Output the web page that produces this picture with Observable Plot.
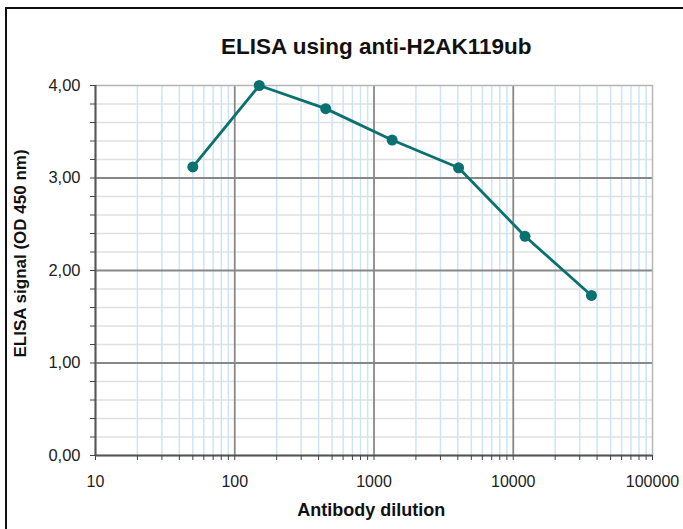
<!DOCTYPE html>
<html><head><meta charset="utf-8">
<script src="https://cdn.jsdelivr.net/npm/d3@7"></script>
<script src="https://cdn.jsdelivr.net/npm/@observablehq/plot@0.6"></script>
<style>
html,body{margin:0;background:#fff;overflow:hidden;}
#wrap{position:relative;width:683px;height:529px;overflow:hidden;background:#fff;}
#border{position:absolute;left:5px;top:7px;width:720px;height:600px;border-left:2px solid #111;border-top:2px solid #111;box-sizing:border-box;}
#chart{position:absolute;left:0;top:0;}
</style></head><body>
<div id="wrap"><div id="border"></div><div id="chart"></div></div>
<script>
const titleText = "ELISA using anti-H2AK119ub";
const xLabel = "Antibody dilution";
const yLabel = "ELISA signal (OD 450 nm)";
const dilutions = [50, 150, 450, 1350, 4050, 12150, 36450];
const signal = [3.12, 4.00, 3.75, 3.41, 3.11, 2.37, 1.73];
const xMajorTicks = [10, 100, 1000, 10000, 100000];
const xTickLabels = ["10", "100", "1000", "10000", "100000"];
const yMajorTicks = [0, 1, 2, 3, 4];
const yTickLabels = ["0,00", "1,00", "2,00", "3,00", "4,00"];

const data = dilutions.map((d, i) => ({dilution: d, signal: signal[i]}));
const xAllTicks = d3.scaleLog().domain([10, 100000]).ticks();
const xMinorTicks = xAllTicks.filter(t => !xMajorTicks.includes(t));
const yAllTicks = d3.range(0, 21).map(i => i / 5);
const yMinorTicks = yAllTicks.filter(t => !yMajorTicks.includes(t));
const xLab = new Map(xMajorTicks.map((t, i) => [t, xTickLabels[i]]));
const yLab = new Map(yMajorTicks.map((t, i) => [t, yTickLabels[i]]));
const teal = "#0b7070";

const chart = Plot.plot({
  width: 683, height: 529,
  marginLeft: 95, marginRight: 31, marginTop: 85, marginBottom: 74,
  style: {fontFamily: "'Liberation Sans', Arial, sans-serif", background: "transparent", overflow: "visible", color: "#222"},
  x: {type: "log", domain: [10, 100000], axis: null},
  y: {domain: [0, 4], axis: null},
  marks: [
    Plot.ruleY(yMinorTicks, {stroke: "#e0e0e0", strokeWidth: 1.5}),
    Plot.ruleX(xMinorTicks, {stroke: "#cde4fa", strokeWidth: 1.5}),
    Plot.ruleY(yMajorTicks.filter(t => t > 0 && t < 4), {stroke: "#888", strokeWidth: 1.8}),
    Plot.ruleX(xMajorTicks.filter(t => t > 10 && t < 100000), {stroke: "#888", strokeWidth: 1.8}),
    Plot.frame({stroke: "#b5b5b5", strokeWidth: 1.5}),
    Plot.ruleY([0], {stroke: "#555", strokeWidth: 2}),
    Plot.ruleX([10], {stroke: "#555", strokeWidth: 2}),
    Plot.axisX(xAllTicks, {label: null, tickSize: 5, tickPadding: 15.5, stroke: "#444", fontSize: 16, fill: "#222",
      tickFormat: t => xLab.get(t) ?? ""}),
    Plot.axisY(yAllTicks, {label: null, tickSize: 5, tickPadding: 10, stroke: "#444", fontSize: 16.5, fill: "#222",
      tickFormat: t => yLab.get(t) ?? ""}),
    Plot.line(data, {x: "dilution", y: "signal", stroke: teal, strokeWidth: 2.8}),
    Plot.dot(data, {x: "dilution", y: "signal", fill: teal, r: 5.5}),
    Plot.text([titleText], {frameAnchor: "top", textAnchor: "middle", lineAnchor: "bottom", dy: -31.7, dx: 2.3,
      fontSize: 22.5, fontWeight: "bold", fill: "#111"}),
    Plot.text([xLabel], {frameAnchor: "bottom", textAnchor: "middle", lineAnchor: "bottom", dy: 60, dx: -2.8,
      fontSize: 18, fontWeight: "bold", fill: "#111"}),
    Plot.text([yLabel], {frameAnchor: "left", textAnchor: "middle", lineAnchor: "bottom", rotate: -90, dx: -69.5, dy: -17,
      fontSize: 17, fontWeight: "bold", fill: "#111"})
  ]
});
document.getElementById("chart").appendChild(chart);
</script>
</body></html>
